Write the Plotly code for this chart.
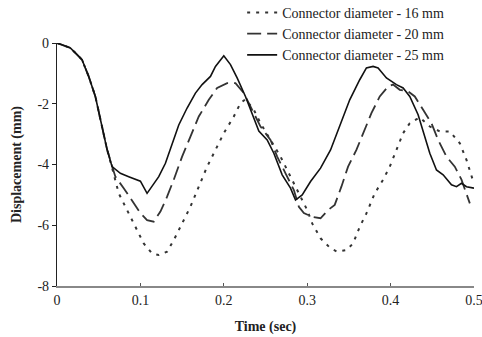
import plotly.graph_objects as go

# 25 mm (solid)
t25 = [0, 0.016, 0.03, 0.038, 0.046, 0.052, 0.06, 0.066, 0.076, 0.086, 0.096, 0.1, 0.108, 0.122, 0.13, 0.138,
       0.146, 0.156, 0.166, 0.174, 0.184, 0.19, 0.2, 0.208, 0.216, 0.226, 0.234, 0.242, 0.252, 0.26, 0.27,
       0.28, 0.286, 0.294, 0.304, 0.316, 0.328, 0.34, 0.351, 0.363, 0.371, 0.379, 0.385, 0.395, 0.407,
       0.415, 0.423, 0.433, 0.441, 0.447, 0.455, 0.463, 0.473, 0.479, 0.485, 0.491, 0.5]
d25 = [0, -0.16, -0.55, -1.1, -1.76, -2.53, -3.5, -4.07, -4.29, -4.4, -4.5, -4.55, -4.95, -4.4, -3.96, -3.3,
       -2.7, -2.14, -1.65, -1.37, -1.1, -0.77, -0.42, -0.71, -1.15, -1.76, -2.36, -2.9, -3.19, -3.63, -4.34,
       -4.78, -5.17, -5.0, -4.56, -4.12, -3.52, -2.69, -1.87, -1.21, -0.82, -0.77, -0.82, -1.15, -1.37,
       -1.48, -1.76, -2.36, -3.08, -3.63, -4.18, -4.34, -4.67, -4.73, -4.62, -4.73, -4.78]

# 20 mm (dashed)
t20 = [0, 0.016, 0.03, 0.038, 0.046, 0.052, 0.06, 0.066, 0.07, 0.08, 0.09, 0.1, 0.108, 0.116, 0.124, 0.132,
       0.14, 0.15, 0.16, 0.17, 0.182, 0.192, 0.204, 0.214, 0.224, 0.234, 0.244, 0.256, 0.264, 0.274, 0.284,
       0.29, 0.296, 0.306, 0.316, 0.325, 0.333, 0.341, 0.349, 0.359, 0.367, 0.377, 0.387, 0.397, 0.403,
       0.411, 0.421, 0.429, 0.439, 0.449, 0.457, 0.467, 0.477, 0.485, 0.495]
d20 = [0, -0.16, -0.55, -1.1, -1.76, -2.53, -3.5, -4.05, -4.4, -4.78, -5.17, -5.6, -5.83, -5.88, -5.55, -5.06,
       -4.5, -3.74, -3.08, -2.42, -1.87, -1.48, -1.32, -1.32, -1.65, -2.2, -2.75, -3.19, -3.74, -4.29, -4.84,
       -5.39, -5.6, -5.72, -5.77, -5.5, -5.33, -4.73, -4.07, -3.52, -2.97, -2.31, -1.76, -1.43, -1.37,
       -1.54, -1.59, -1.76, -2.2, -2.64, -3.19, -3.74, -4.07, -4.5, -5.28]

# 16 mm (dotted)
t16 = [0, 0.016, 0.03, 0.038, 0.046, 0.052, 0.06, 0.066, 0.074, 0.084, 0.094, 0.104, 0.114, 0.122, 0.132, 0.14,
       0.15, 0.16, 0.17, 0.18, 0.192, 0.2, 0.212, 0.22, 0.226, 0.236, 0.244, 0.256, 0.268, 0.276, 0.284,
       0.292, 0.3, 0.306, 0.316, 0.328, 0.336, 0.347, 0.355, 0.363, 0.371, 0.381, 0.391, 0.399, 0.407,
       0.415, 0.423, 0.435, 0.447, 0.459, 0.471, 0.483, 0.491, 0.499]
d16 = [0, -0.16, -0.55, -1.1, -1.76, -2.53, -3.5, -4.1, -4.95, -5.5, -6.05, -6.6, -6.93, -6.98, -6.87, -6.49,
       -5.94, -5.39, -4.73, -4.07, -3.41, -2.97, -2.42, -1.98, -1.85, -2.2, -2.64, -3.19, -3.74, -4.18, -4.62,
       -5.06, -5.5, -5.94, -6.43, -6.76, -6.87, -6.82, -6.6, -6.05, -5.61, -4.95, -4.5, -4.07, -3.52,
       -2.97, -2.64, -2.45, -2.75, -2.91, -2.91, -3.3, -3.85, -4.55]

x_ticks = [0, 0.1, 0.2, 0.3, 0.4, 0.5]
x_labels = ["0", "0.1", "0.2", "0.3", "0.4", "0.5"]
y_ticks = [-8, -6, -4, -2, 0]
y_labels = ["-8", "-6", "-4", "-2", "0"]

font = "Liberation Serif, Times New Roman, serif"

fig = go.Figure()
fig.add_trace(go.Scatter(x=t16, y=d16, mode="lines", name="Connector diameter - 16 mm",
                         line=dict(color="#333333", width=2, dash="3px,6px")))
fig.add_trace(go.Scatter(x=t20, y=d20, mode="lines", name="Connector diameter - 20 mm",
                         line=dict(color="#333333", width=1.8, dash="14px,6px")))
fig.add_trace(go.Scatter(x=t25, y=d25, mode="lines", name="Connector diameter - 25 mm",
                         line=dict(color="#111111", width=1.6)))

fig.update_layout(
    width=482, height=337,
    margin=dict(l=57, r=8, t=43, b=51, autoexpand=False),
    plot_bgcolor="white", paper_bgcolor="white",
    font=dict(family=font, size=14, color="#222222"),
    showlegend=True,
    legend=dict(x=0.444, y=1.19, xanchor="left", yanchor="top",
                bgcolor="rgba(0,0,0,0)", font=dict(size=14, family=font),
                tracegroupgap=0, itemwidth=30),
    xaxis=dict(range=[0, 0.5], tickvals=x_ticks, ticktext=x_labels,
               showgrid=False, zeroline=False, showline=True, linecolor="#888888", linewidth=2,
               ticks="inside", ticklen=3, tickcolor="#555555", automargin=False,
               ticklabeloverflow="allow",
               title=dict(text="<b>Time (sec)</b>", font=dict(size=14, family=font), standoff=14),
               tickfont=dict(size=14, family=font)),
    yaxis=dict(range=[-8, 0], tickvals=y_ticks, ticktext=y_labels,
               showgrid=False, zeroline=False, showline=True, linecolor="#222222", linewidth=1.2,
               ticks="outside", ticklen=4, tickcolor="#222222", automargin=False,
               title=dict(text="<b>Displacement (mm)</b>", font=dict(size=14, family=font), standoff=12),
               tickfont=dict(size=14, family=font)),
)

fig.write_html("out.html", config={"displayModeBar": False},
               post_script="document.body.style.margin='0';")
